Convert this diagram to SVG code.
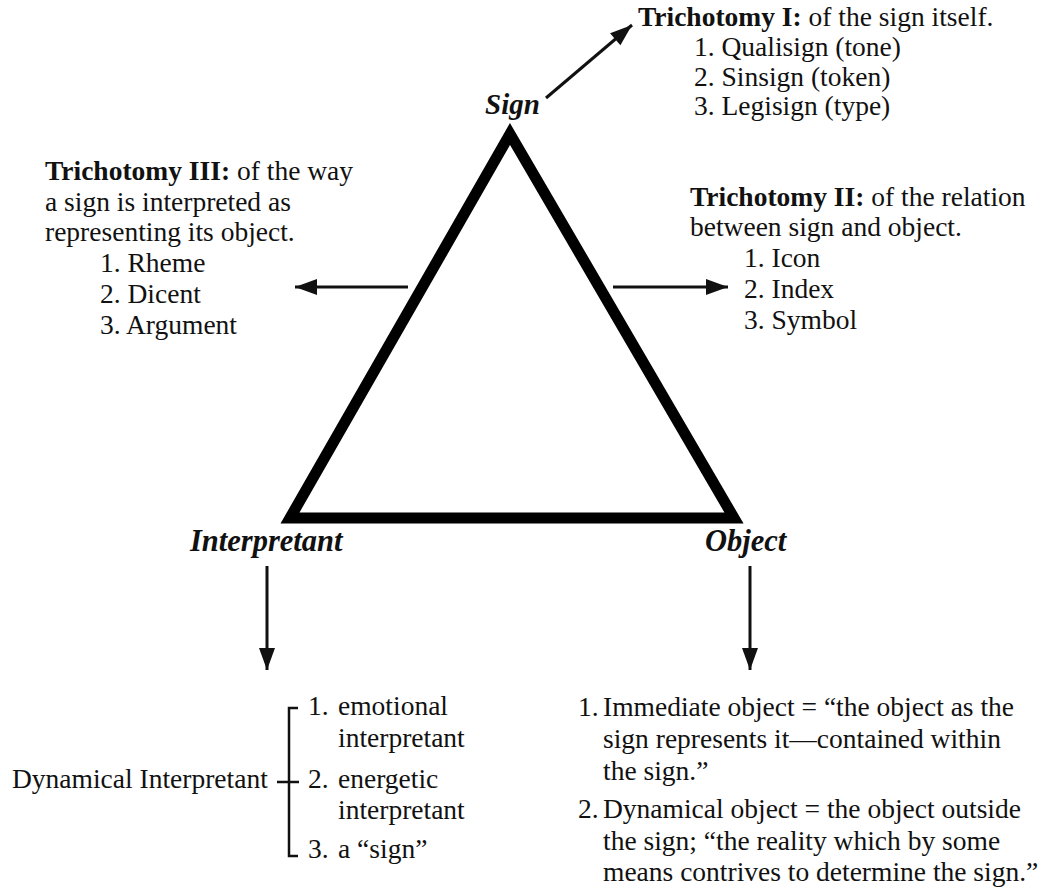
<svg xmlns="http://www.w3.org/2000/svg" width="1051" height="888" viewBox="0 0 1051 888">
  <style>
    text { font-family: "Liberation Serif", "Times New Roman", serif; font-size: 27.5px; fill: #111; }
    .b { font-weight: bold; }
    .lbl { font-weight: bold; font-style: italic; font-size: 29px; }
    .lbl-wide { font-size: 30.5px; }
    .arrow { stroke: #111; stroke-width: 3; fill: none; marker-end: url(#head); }
    .br { stroke: #111; stroke-width: 2.5; fill: none; }
  </style>
  <defs>
    <marker id="head" markerUnits="userSpaceOnUse" markerWidth="24" markerHeight="18" refX="22" refY="8" orient="auto" overflow="visible">
      <path d="M0,0 L22,8 L0,16 z" fill="#111"/>
    </marker>
  </defs>
  <rect width="1051" height="888" fill="#fff"/>

  <!-- Triadic sign relation -->
  <g id="triangle">
    <polygon points="510,134 734,518 290,518" fill="none" stroke="#000" stroke-width="11" stroke-linejoin="miter" stroke-miterlimit="10"/>
  </g>

  <g id="node-sign">
    <text class="lbl" x="485" y="114">Sign</text>
  </g>
  <g id="node-interpretant">
    <text class="lbl lbl-wide" x="190" y="551">Interpretant</text>
  </g>
  <g id="node-object">
    <text class="lbl lbl-wide" x="705" y="551">Object</text>
  </g>

  <g id="connectors">
    <line class="arrow" x1="546" y1="98" x2="632" y2="25"/>
    <line class="arrow" x1="408" y1="287" x2="295" y2="287"/>
    <line class="arrow" x1="613" y1="287" x2="728" y2="287"/>
    <line class="arrow" x1="267" y1="566" x2="267" y2="670"/>
    <line class="arrow" x1="750" y1="566" x2="750" y2="670"/>
  </g>

  <g id="trichotomy-1">
    <text x="638" y="26"><tspan class="b">Trichotomy I:</tspan> of the sign itself.</text>
    <text x="694" y="56">1. Qualisign (tone)</text>
    <text x="694" y="86">2. Sinsign (token)</text>
    <text x="694" y="115">3. Legisign (type)</text>
  </g>

  <g id="trichotomy-3">
    <text x="45" y="180"><tspan class="b">Trichotomy III:</tspan> of the way</text>
    <text x="45" y="211">a sign is interpreted as</text>
    <text x="45" y="241">representing its object.</text>
    <text x="100" y="272">1. Rheme</text>
    <text x="100" y="303">2. Dicent</text>
    <text x="100" y="334">3. Argument</text>
  </g>

  <g id="trichotomy-2">
    <text x="690" y="206"><tspan class="b">Trichotomy II:</tspan> of the relation</text>
    <text x="690" y="236">between sign and object.</text>
    <text x="744" y="267">1. Icon</text>
    <text x="744" y="298">2. Index</text>
    <text x="744" y="329">3. Symbol</text>
  </g>

  <g id="dynamical-interpretant">
    <text x="12" y="788">Dynamical Interpretant</text>
    <path class="br" d="M298,708 H289 V856 H298 M277,782 H299"/>
    <text x="308" y="715">1.</text>
    <text x="338" y="715">emotional</text>
    <text x="338" y="747">interpretant</text>
    <text x="308" y="788">2.</text>
    <text x="338" y="788">energetic</text>
    <text x="338" y="819">interpretant</text>
    <text x="308" y="858">3.</text>
    <text x="338" y="858">a “sign”</text>
  </g>

  <g id="object-kinds">
    <text x="578" y="716">1.</text>
    <text x="603" y="716">Immediate object = “the object as the</text>
    <text x="603" y="748">sign represents it—contained within</text>
    <text x="603" y="780">the sign.”</text>
    <text x="578" y="818">2.</text>
    <text x="603" y="818">Dynamical object = the object outside</text>
    <text x="603" y="850">the sign; “the reality which by some</text>
    <text x="603" y="881">means contrives to determine the sign.”</text>
  </g>
</svg>
